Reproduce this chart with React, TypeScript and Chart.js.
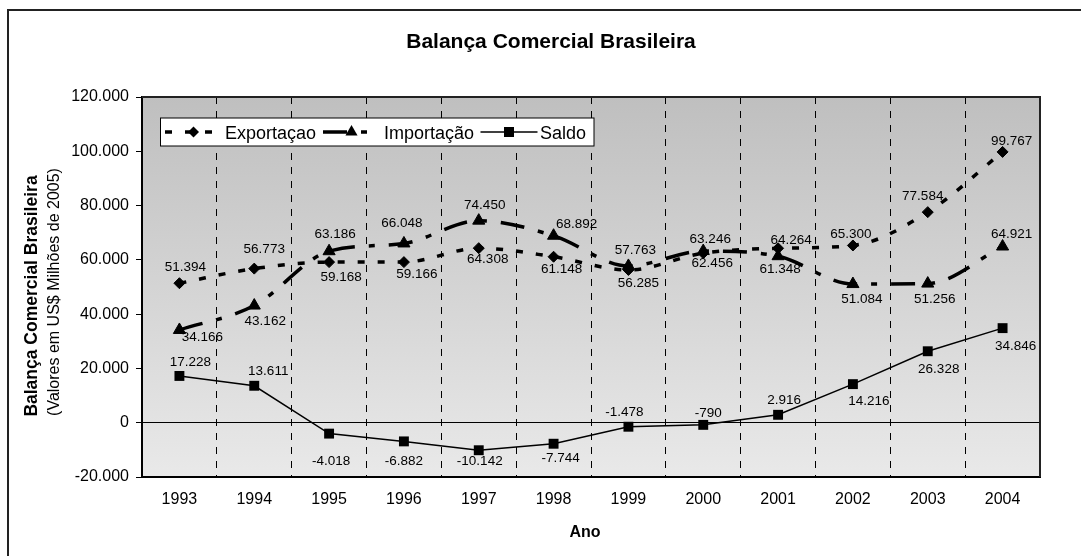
import React, { useEffect, useRef } from 'react';
import { Chart, registerables } from 'chart.js';

Chart.register(...registerables);

// ---------- DATA ----------
const years = ['1993', '1994', '1995', '1996', '1997', '1998', '1999', '2000', '2001', '2002', '2003', '2004'];
const exportacao = [51394, 56773, 59168, 59166, 64308, 61148, 56285, 62456, 64264, 65300, 77584, 99767];
const importacao = [34166, 43162, 63186, 66048, 74450, 68892, 57763, 63246, 61348, 51084, 51256, 64921];
const saldo = [17228, 13611, -4018, -6882, -10142, -7744, -1478, -790, 2916, 14216, 26328, 34846];
const seriesNames = ['Exportaçao', 'Importação', 'Saldo'];
const yMin = -20000;
const yMax = 120000;
const yStep = 20000;

// ---------- STYLE ----------
const FONT = '"Liberation Sans", Arial, sans-serif';
// label offsets (dx, dy) relative to each point, in pixels
const exportLabelOffsets = [[6, -16], [10, -19], [12, 15], [13, 12], [9, 11], [8, 13], [10, 13], [9, 10], [13, -8], [-2, -11], [-5, -16], [9, -11]];
const importLabelOffsets = [[23, 7], [11, 16], [6, -17], [-2, -20], [6, -15], [23, -11], [7, -16], [7, -12], [2, 13], [9, 15], [7, 16], [9, -12]];
const saldoLabelOffsets = [[11, -14], [14, -14], [2, 28], [0, 20], [1, 11], [7, 15], [-4, -14], [5, -12], [6, -15], [16, 17], [11, 18], [13, 18]];
const labelOffsets = [exportLabelOffsets, importLabelOffsets, saldoLabelOffsets];

const EXPORT_DASH = [7, 13];
const IMPORT_DASH = [24, 14, 6, 14];

const fmt = (v: number) => {
  const s = Math.abs(Math.round(v)).toString().replace(/\B(?=(\d{3})+(?!\d))/g, '.');
  return v < 0 ? '-' + s : s;
};

function drawMarker(ctx: CanvasRenderingContext2D, kind: string, x: number, y: number) {
  ctx.beginPath();
  if (kind === 'diamond') {
    const r = 5.5;
    ctx.moveTo(x, y - r);
    ctx.lineTo(x + r, y);
    ctx.lineTo(x, y + r);
    ctx.lineTo(x - r, y);
    ctx.closePath();
  } else if (kind === 'triangle') {
    const r = 7;
    ctx.moveTo(x, y - r);
    ctx.lineTo(x + r * 0.866, y + r * 0.5);
    ctx.lineTo(x - r * 0.866, y + r * 0.5);
    ctx.closePath();
  } else {
    const h = 5;
    ctx.rect(x - h, y - h, 2 * h, 2 * h);
  }
  ctx.fillStyle = '#000';
  ctx.fill();
}

const decorPlugin = {
  id: 'decor',
  beforeDraw(chart: any) {
    const { ctx, chartArea: a } = chart;
    ctx.save();
    ctx.fillStyle = '#ffffff';
    ctx.fillRect(0, 0, chart.width, chart.height);
    // outer border
    ctx.strokeStyle = '#222';
    ctx.lineWidth = 2;
    ctx.beginPath();
    ctx.moveTo(8, chart.height + 4);
    ctx.lineTo(8, 10);
    ctx.lineTo(chart.width + 4, 10);
    ctx.stroke();
    // plot background gradient
    const g = ctx.createLinearGradient(0, a.top, 0, a.bottom);
    g.addColorStop(0, '#bfbfbf');
    g.addColorStop(1, '#e9e9e9');
    ctx.fillStyle = g;
    ctx.fillRect(a.left, a.top, a.right - a.left, a.bottom - a.top);

    ctx.fillStyle = '#000';
    // main title
    ctx.font = `bold 21px ${FONT}`;
    ctx.textAlign = 'center';
    ctx.textBaseline = 'alphabetic';
    ctx.fillText('Balança Comercial Brasileira', 551, 48);
    // x title
    ctx.font = `bold 16px ${FONT}`;
    ctx.fillText('Ano', 585, 537);
    // y titles
    ctx.save();
    ctx.translate(37, 296);
    ctx.rotate(-Math.PI / 2);
    ctx.font = `bold 17.5px ${FONT}`;
    ctx.fillText('Balança Comercial Brasileira', 0, 0);
    ctx.restore();
    ctx.save();
    ctx.translate(58.5, 292);
    ctx.rotate(-Math.PI / 2);
    ctx.font = `16px ${FONT}`;
    ctx.fillText('(Valores em US$ Milhões de 2005)', 0, 0);
    ctx.restore();
    ctx.restore();
  },
  beforeDatasetsDraw(chart: any) {
    const { ctx, chartArea: a } = chart;
    ctx.save();
    ctx.strokeStyle = '#222';
    ctx.lineWidth = 2;
    ctx.beginPath();
    ctx.moveTo(a.left, a.top);
    ctx.lineTo(a.right, a.top);
    ctx.lineTo(a.right, a.bottom);
    ctx.stroke();
    ctx.restore();
  },
  afterDatasetsDraw(chart: any) {
    const { ctx } = chart;
    ctx.save();
    // data labels
    ctx.font = `13.5px ${FONT}`;
    ctx.fillStyle = '#000';
    ctx.textAlign = 'center';
    ctx.textBaseline = 'middle';
    chart.data.datasets.forEach((ds: any, di: number) => {
      const meta = chart.getDatasetMeta(di);
      meta.data.forEach((pt: any, i: number) => {
        const off = labelOffsets[di][i];
        ctx.fillText(fmt(ds.data[i]), pt.x + off[0], pt.y + off[1]);
      });
    });

    // legend
    const bx = 160.5, by = 118, bw = 433.5, bh = 28;
    ctx.fillStyle = '#fff';
    ctx.fillRect(bx, by, bw, bh);
    ctx.strokeStyle = '#000';
    ctx.lineWidth = 1;
    ctx.strokeRect(bx, by, bw, bh);
    const ly = 132;
    const entries = [
      { name: seriesNames[0], cx: 193.5, dash: EXPORT_DASH, lw: 3.5, marker: 'diamond', tx: 225 },
      { name: seriesNames[1], cx: 351.5, dash: IMPORT_DASH, lw: 3.5, marker: 'triangle', tx: 384 },
      { name: seriesNames[2], cx: 509, dash: [] as number[], lw: 1.5, marker: 'square', tx: 540 },
    ];
    entries.forEach((e) => {
      ctx.save();
      ctx.strokeStyle = '#000';
      ctx.lineWidth = e.lw;
      ctx.setLineDash(e.dash);
      ctx.beginPath();
      ctx.moveTo(e.cx - 28.5, ly);
      ctx.lineTo(e.cx + 28.5, ly);
      ctx.stroke();
      ctx.restore();
      drawMarker(ctx, e.marker, e.cx, ly);
      ctx.fillStyle = '#000';
      ctx.font = `18px ${FONT}`;
      ctx.textAlign = 'left';
      ctx.textBaseline = 'alphabetic';
      ctx.fillText(e.name, e.tx, 138.5);
    });
    ctx.restore();
  },
};

export default function App() {
  const ref = useRef<HTMLCanvasElement | null>(null);

  useEffect(() => {
    if (!ref.current) return;
    const chart = new Chart(ref.current, {
      type: 'line',
      data: {
        labels: years,
        datasets: [
          {
            label: seriesNames[0],
            data: exportacao,
            borderColor: '#000',
            borderWidth: 3.5,
            borderDash: EXPORT_DASH,
            cubicInterpolationMode: 'monotone',
            pointStyle: 'rectRot',
            pointRadius: 5.5,
            pointBackgroundColor: '#000',
            pointBorderColor: '#000',
            pointBorderWidth: 1,
            fill: false,
          },
          {
            label: seriesNames[1],
            data: importacao,
            borderColor: '#000',
            borderWidth: 3.5,
            borderDash: IMPORT_DASH,
            cubicInterpolationMode: 'monotone',
            pointStyle: 'triangle',
            pointRadius: 7,
            pointBackgroundColor: '#000',
            pointBorderColor: '#000',
            pointBorderWidth: 1,
            fill: false,
          },
          {
            label: seriesNames[2],
            data: saldo,
            borderColor: '#000',
            borderWidth: 1.5,
            tension: 0,
            pointStyle: 'rect',
            pointRadius: 7,
            pointBackgroundColor: '#000',
            pointBorderColor: '#000',
            pointBorderWidth: 0,
            fill: false,
          },
        ],
      },
      options: {
        animation: false,
        responsive: false,
        events: [],
        layout: { padding: { left: 0, top: 97, right: 41, bottom: 0 } },
        plugins: {
          legend: { display: false },
          title: { display: false },
          tooltip: { enabled: false },
        },
        scales: {
          x: {
            type: 'category',
            offset: true,
            grid: { offset: true, color: '#000', lineWidth: 1, drawTicks: false, drawOnChartArea: true },
            border: { display: true, color: '#000', width: 2, dash: [7, 7] },
            ticks: { color: '#000', font: { family: FONT, size: 16 }, padding: 13, maxRotation: 0, autoSkip: false },
            afterFit: (s: any) => {
              s.height = 79;
            },
          },
          y: {
            min: yMin,
            max: yMax,
            ticks: {
              stepSize: yStep,
              color: '#000',
              font: { family: FONT, size: 16 },
              padding: 7,
              callback: (v: any) => fmt(Number(v)),
            },
            grid: {
              color: (c: any) => (c.tick && c.tick.value === 0 ? '#000' : 'rgba(0,0,0,0)'),
              tickColor: '#000',
              tickLength: 6,
              lineWidth: 1,
              drawOnChartArea: true,
              drawTicks: true,
            },
            border: { display: true, color: '#000', width: 2 },
            afterFit: (s: any) => {
              s.width = 142;
            },
          },
        },
      },
      plugins: [decorPlugin],
    } as any);
    return () => chart.destroy();
  }, []);

  return (
    <div style={{ position: 'fixed', left: 0, top: 0, width: 1081, height: 556, background: '#fff' }}>
      <canvas ref={ref} width={1081} height={556} style={{ display: 'block' }} />
    </div>
  );
}
